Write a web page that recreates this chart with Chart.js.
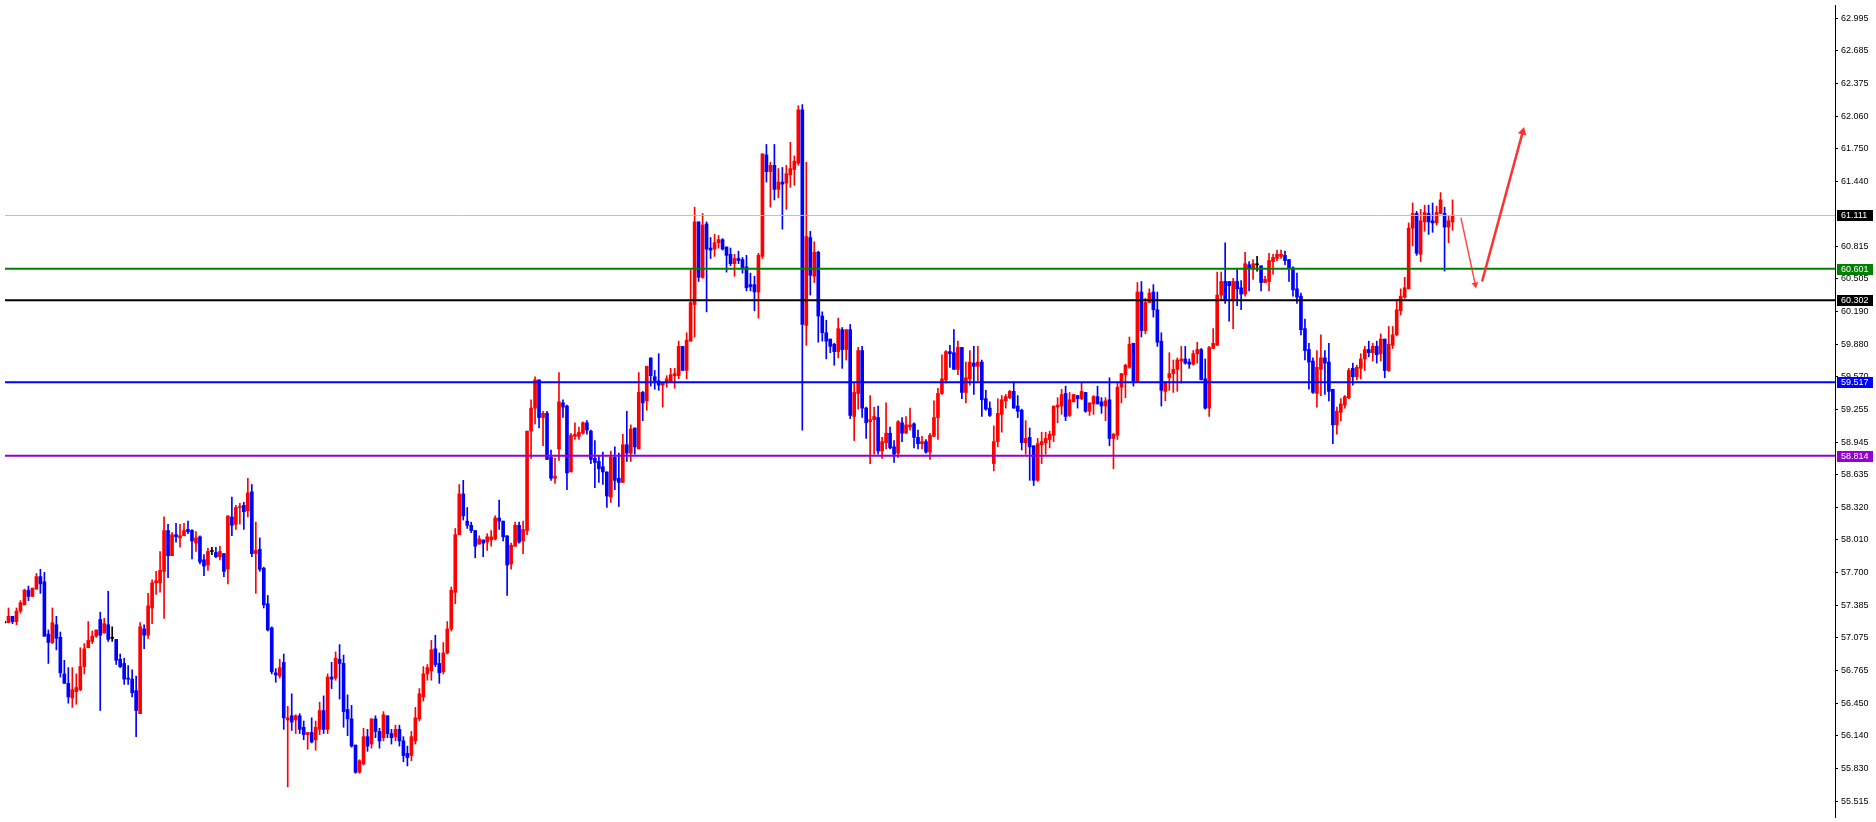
<!DOCTYPE html>
<html>
<head>
<meta charset="utf-8">
<style>
  html, body { margin: 0; padding: 0; background: #ffffff; }
  #wrap { width: 1876px; height: 822px; position: relative; }
  canvas { display: block; }
</style>
<script src="https://cdn.jsdelivr.net/npm/chart.js@4.4.1/dist/chart.umd.min.js"></script>
</head>
<body>
<div id="wrap"><canvas id="c" width="1876" height="822"></canvas></div>
<script>
// ---------------- DATA ----------------
const openPrices = [
57.22,57.22,57.28,57.23,57.33,57.39,57.53,57.47,57.54,57.66,
57.61,57.11,57.03,57.20,57.08,56.73,56.64,56.50,56.56,56.58,
56.80,56.98,57.04,57.09,57.25,57.12,57.20,57.07,57.06,56.87,
56.83,56.69,56.68,56.57,56.35,57.16,57.10,57.36,57.60,57.60,
57.71,58.10,57.86,58.06,58.03,58.05,58.11,58.10,57.98,58.04,
57.82,57.77,57.90,57.89,57.85,57.88,57.73,58.23,58.16,58.32,
58.34,58.29,58.47,57.88,57.92,57.74,57.40,57.17,56.74,56.71,
56.84,56.29,56.33,56.29,56.33,56.22,56.15,56.17,56.10,56.20,
56.38,56.20,56.70,56.69,56.87,56.83,56.39,56.30,56.05,55.79,
55.87,56.13,56.06,56.30,56.18,56.12,56.33,56.16,56.13,56.20,
56.09,55.97,55.95,56.09,56.30,56.51,56.73,56.76,56.97,56.83,
56.75,56.93,57.16,57.51,58.06,58.45,58.19,58.15,58.10,57.97,
58.01,57.99,58.01,58.02,58.22,58.19,58.05,57.78,57.95,58.15,
58.00,58.10,59.05,59.27,59.54,59.18,59.22,58.80,58.60,58.88,
59.32,59.29,58.66,59.00,59.00,59.03,59.13,59.05,58.79,58.76,
58.71,58.66,58.42,58.80,58.60,58.56,58.92,58.84,59.08,58.88,
59.42,59.34,59.75,59.57,59.53,59.49,59.51,59.53,59.58,59.58,
59.86,59.63,59.91,60.26,61.05,60.52,61.03,60.80,60.79,60.85,
60.88,60.81,60.74,60.65,60.70,60.69,60.62,60.45,60.45,60.38,
60.72,61.69,61.53,61.59,61.36,61.43,61.42,61.50,61.55,61.61,
62.12,60.06,60.90,60.53,60.76,60.15,59.99,59.93,59.88,59.81,
60.02,59.83,60.02,59.19,59.41,59.82,59.27,59.14,59.16,59.18,
58.86,58.94,59.03,58.90,58.84,59.13,59.03,59.09,59.12,58.99,
58.93,58.95,58.85,59.00,59.18,59.41,59.54,59.81,59.80,59.64,
59.85,59.42,59.55,59.70,59.67,59.71,59.36,59.27,58.74,58.95,
59.21,59.34,59.37,59.43,59.29,59.25,58.94,58.99,58.91,58.58,
58.92,58.94,58.97,59.01,59.28,59.29,59.41,59.20,59.33,59.39,
59.36,59.42,59.24,59.31,59.38,59.33,59.29,59.35,58.98,59.01,
59.47,59.59,59.66,59.89,59.52,60.38,60.01,60.28,60.38,60.21,
59.91,59.43,59.56,59.60,59.64,59.72,59.74,59.71,59.69,59.79,
59.83,59.55,59.27,59.84,59.87,60.35,60.48,60.48,60.30,60.48,
60.42,60.36,60.64,60.61,60.64,60.63,60.47,60.48,60.67,60.70,
60.72,60.73,60.69,60.61,60.41,60.34,60.03,59.83,59.72,59.41,
59.64,59.75,59.71,59.45,59.11,59.23,59.30,59.37,59.65,59.57,
59.65,59.74,59.83,59.80,59.86,59.79,59.93,59.63,59.87,59.97,
60.20,60.33,60.41,60.99,61.13,60.74,61.05,61.13,61.06,61.04,
61.13,61.13,61.00,61.05
];
const highPrices = [
57.23,57.36,57.28,57.36,57.43,57.54,57.57,57.55,57.69,57.73,
57.70,57.15,57.36,57.28,57.13,56.86,56.79,56.79,56.73,56.98,
57.02,57.23,57.14,57.15,57.32,57.26,57.52,57.18,57.06,56.92,
56.88,56.81,56.77,56.71,57.22,57.20,57.50,57.63,57.71,57.90,
58.23,58.16,58.08,58.17,58.16,58.17,58.19,58.11,58.09,58.05,
57.87,57.93,57.94,57.94,57.95,57.88,58.24,58.42,58.34,58.36,
58.37,58.60,58.54,58.18,58.03,57.75,57.48,57.18,56.78,56.87,
56.92,56.42,56.54,56.34,56.35,56.28,56.17,56.31,56.28,56.46,
56.52,56.73,56.84,56.94,57.01,56.91,56.53,56.43,56.05,55.91,
56.21,56.20,56.30,56.33,56.21,56.37,56.33,56.20,56.24,56.24,
56.13,56.04,56.18,56.41,56.59,56.80,56.82,57.05,57.10,56.93,
57.03,57.23,57.56,58.12,58.54,58.58,58.32,58.18,58.10,58.05,
58.01,58.07,58.10,58.24,58.39,58.19,58.05,57.98,58.18,58.18,
58.19,59.05,59.35,59.57,59.54,59.24,59.24,58.87,58.79,59.61,
59.35,59.30,59.03,59.13,59.09,59.14,59.15,59.06,58.96,58.81,
58.85,58.66,58.86,58.90,58.84,59.02,59.24,59.11,59.08,59.61,
59.43,59.67,59.75,59.63,59.79,59.51,59.58,59.65,59.65,59.91,
59.86,59.99,60.59,61.19,61.05,61.13,61.05,60.90,60.93,60.92,
60.89,60.81,60.80,60.74,60.77,60.71,60.73,60.56,60.53,60.75,
61.70,61.79,61.62,61.79,61.56,61.57,61.59,61.81,61.68,62.16,
62.17,61.62,60.96,60.86,60.77,60.19,60.11,59.93,59.89,60.13,
60.04,60.02,60.07,59.51,59.85,59.86,59.28,59.39,59.28,59.29,
58.99,59.32,59.09,58.96,59.15,59.18,59.19,59.27,59.13,59.06,
59.00,58.97,59.03,59.34,59.46,59.78,59.82,59.87,60.02,59.91,
59.85,59.71,59.82,59.86,59.86,59.73,59.44,59.33,59.10,59.36,
59.39,59.40,59.44,59.52,59.39,59.26,59.15,59.08,58.91,58.98,
59.04,59.04,59.05,59.29,59.37,59.45,59.48,59.42,59.40,59.39,
59.51,59.42,59.32,59.39,59.48,59.37,59.37,59.56,59.03,59.52,
59.60,59.69,59.95,59.89,60.47,60.48,60.32,60.41,60.45,60.38,
59.99,59.52,59.80,59.73,59.75,59.86,59.86,59.74,59.82,59.90,
59.84,59.74,59.86,60.03,60.57,60.57,60.85,60.48,60.51,60.60,
60.49,60.76,60.67,60.69,60.72,60.63,60.53,60.75,60.74,60.78,
60.78,60.77,60.69,60.62,60.56,60.37,60.12,59.89,59.75,59.82,
59.97,59.82,59.89,59.45,59.28,59.36,59.39,59.65,59.70,59.68,
59.79,59.86,59.91,59.89,59.91,59.98,59.93,60.05,60.05,60.31,
60.41,60.52,61.04,61.23,61.15,61.17,61.21,61.21,61.23,61.20,
61.33,61.19,61.11,61.26
];
const lowPrices = [
57.21,57.22,57.21,57.20,57.31,57.39,57.43,57.47,57.54,57.50,
57.09,56.83,57.02,56.96,56.70,56.64,56.45,56.41,56.44,56.57,
56.73,56.98,57.02,57.08,56.38,57.12,57.04,57.04,56.82,56.79,
56.63,56.63,56.51,56.13,56.35,56.97,57.07,57.21,57.49,57.51,
57.26,57.65,57.86,57.99,57.94,58.05,58.07,57.83,57.90,57.78,
57.67,57.72,57.87,57.84,57.82,57.66,57.59,58.05,58.11,58.16,
58.11,58.23,57.85,57.50,57.71,57.36,57.14,56.73,56.65,56.69,
56.20,55.65,56.19,56.16,56.16,56.10,56.01,56.07,56.00,56.15,
56.16,56.16,56.59,56.67,56.49,56.22,56.14,56.03,55.78,55.78,
55.86,55.99,56.02,56.12,56.02,56.09,56.12,56.06,56.09,56.04,
55.89,55.85,55.90,56.06,56.28,56.47,56.67,56.67,56.80,56.64,
56.73,56.92,57.14,57.40,58.06,58.20,58.12,58.08,57.84,57.97,
57.85,57.91,57.95,58.01,58.11,58.00,57.48,57.73,57.95,57.98,
57.88,58.06,58.79,59.12,59.08,58.91,58.78,58.58,58.55,58.77,
59.18,58.49,58.66,58.97,58.97,59.02,59.02,58.74,58.51,58.56,
58.54,58.32,58.37,58.49,58.33,58.56,58.76,58.76,58.83,58.88,
59.15,59.25,59.48,59.45,59.44,59.28,59.47,59.52,59.46,59.55,
59.63,59.55,59.91,59.95,60.48,60.51,60.19,60.70,60.72,60.80,
60.78,60.57,60.63,60.53,60.65,60.56,60.39,60.39,60.20,60.13,
60.70,61.43,61.19,61.26,61.28,60.98,61.17,61.38,61.40,61.59,
59.06,59.87,60.35,60.47,59.90,59.91,59.74,59.80,59.68,59.75,
59.65,59.73,59.17,58.96,59.26,59.18,58.98,58.74,58.83,58.83,
58.79,58.88,58.88,58.75,58.80,58.95,59.03,59.06,58.89,58.88,
58.88,58.84,58.78,59.00,58.97,59.40,59.51,59.66,59.64,59.59,
59.36,59.32,59.49,59.40,59.53,59.19,59.25,59.19,58.67,58.90,
59.04,59.27,59.36,59.27,59.18,58.87,58.83,58.58,58.53,58.57,
58.74,58.83,58.89,58.95,59.13,59.21,59.15,59.19,59.33,59.27,
59.35,59.23,59.20,59.21,59.31,59.22,59.15,58.91,58.69,58.97,
59.32,59.37,59.65,59.48,59.52,59.95,59.98,60.28,60.14,59.86,
59.29,59.34,59.44,59.42,59.43,59.51,59.69,59.65,59.68,59.70,
59.54,59.26,59.19,59.84,59.87,60.30,60.27,60.10,60.03,60.25,
60.21,60.34,60.39,60.50,60.58,60.39,60.47,60.39,60.55,60.68,
60.70,60.64,60.48,60.34,60.27,59.97,59.73,59.45,59.41,59.28,
59.39,59.40,59.34,58.93,59.02,59.15,59.27,59.36,59.49,59.54,
59.55,59.63,59.76,59.72,59.70,59.72,59.56,59.62,59.84,59.96,
60.16,60.32,60.41,60.82,60.73,60.67,60.96,60.93,60.95,61.02,
61.13,60.58,60.85,60.97
];
const closePrices = [
57.22,57.28,57.23,57.33,57.41,57.53,57.47,57.55,57.66,57.59,
57.09,57.03,57.22,57.07,56.74,56.64,56.51,56.58,56.60,56.80,
56.97,57.05,57.09,57.15,57.10,57.21,57.06,57.07,56.86,56.80,
56.68,56.68,56.55,56.38,57.18,57.10,57.38,57.60,57.62,57.72,
58.10,57.86,58.06,58.04,58.05,58.10,58.09,58.00,58.03,57.80,
57.76,57.90,57.90,57.85,57.90,57.71,58.24,58.15,58.32,58.33,
58.28,58.46,57.88,57.91,57.73,57.39,57.15,56.75,56.72,56.79,
56.31,56.31,56.27,56.33,56.20,56.15,56.17,56.08,56.22,56.38,
56.20,56.70,56.68,56.88,56.83,56.37,56.30,56.04,55.79,55.90,
56.13,56.04,56.30,56.18,56.09,56.34,56.16,56.12,56.20,56.09,
55.95,55.93,56.13,56.31,56.54,56.73,56.79,56.96,56.82,56.74,
56.93,57.16,57.53,58.06,58.45,58.24,58.15,58.10,57.95,58.02,
57.98,58.04,58.04,58.22,58.19,58.04,57.77,57.96,58.15,57.99,
58.11,59.05,59.27,59.54,59.18,59.22,58.78,58.60,58.62,59.33,
59.28,58.65,59.01,59.02,59.04,59.13,59.06,58.78,58.75,58.69,
58.66,58.43,58.80,58.58,58.56,58.92,58.84,59.07,58.90,59.42,
59.32,59.67,59.58,59.53,59.49,59.51,59.55,59.59,59.60,59.86,
59.63,59.92,60.28,61.05,60.52,61.02,60.79,60.78,60.85,60.88,
60.79,60.73,60.65,60.70,60.68,60.61,60.42,60.43,60.38,60.73,
61.70,61.53,61.59,61.36,61.43,61.41,61.51,61.56,61.63,62.12,
60.07,60.91,60.54,60.76,60.15,59.99,59.91,59.86,59.81,60.03,
59.83,60.02,59.20,59.42,59.82,59.27,59.13,59.16,59.19,58.86,
58.95,59.03,58.89,58.83,59.14,59.03,59.11,59.11,58.99,58.93,
58.95,58.85,59.01,59.18,59.41,59.55,59.81,59.79,59.64,59.85,
59.42,59.56,59.71,59.67,59.71,59.35,59.26,59.20,58.95,59.22,
59.35,59.38,59.43,59.27,59.24,58.94,58.98,58.90,58.58,58.93,
58.95,58.98,59.02,59.29,59.30,59.40,59.19,59.35,59.40,59.36,
59.43,59.24,59.32,59.38,59.31,59.29,59.34,58.98,59.02,59.47,
59.60,59.68,59.88,59.53,60.38,60.01,60.28,60.37,60.21,59.90,
59.44,59.52,59.60,59.64,59.73,59.74,59.70,59.69,59.79,59.83,
59.54,59.27,59.85,59.89,60.35,60.48,60.30,60.44,60.48,60.41,
60.36,60.65,60.61,60.65,60.64,60.47,60.50,60.68,60.71,60.74,
60.74,60.68,60.61,60.40,60.33,60.02,59.82,59.71,59.42,59.66,
59.75,59.70,59.43,59.11,59.24,59.31,59.38,59.63,59.57,59.66,
59.74,59.83,59.80,59.86,59.78,59.93,59.63,59.88,59.97,60.21,
60.34,60.42,60.99,61.13,60.75,61.06,61.14,61.05,61.04,61.14,
61.26,61.00,61.06,61.11
];

// Axis tick labels printed on the right-hand price scale
const tickLabels = [62.995,62.685,62.375,62.060,61.750,61.440,60.815,60.505,60.190,59.880,
  59.570,59.255,58.945,58.635,58.320,58.010,57.700,57.385,57.075,56.765,56.450,56.140,55.830,55.515];

// Horizontal price levels and their boxed labels
const levelValues = [61.111, 60.601, 60.302, 59.517, 58.814];
const levelLabels = ['61.111', '60.601', '60.302', '59.517', '58.814'];

// Hand-drawn forecast arrow (candle index, price)
const arrowDownX = [365.1, 368.7];
const arrowDownY = [61.09, 60.45];
const arrowUpX = [370.4, 380.6];
const arrowUpY = [60.48, 61.91];

// ---------------- STYLE ----------------
const UP = '#ff0000', DOWN = '#0000ff', DOJI = '#000000';
const levelColors = ['#c0c0c0', '#008000', '#000000', '#0000ff', '#9400d3'];
const levelWidths = [1, 2, 2, 2, 2];
const levelBoxColors = ['#000000', '#008000', '#000000', '#0000ff', '#9400d3'];
const X_MIN = 0.125, X_MAX = 458.875;
const Y_MIN = 55.3625, Y_MAX = 63.1225;
const FONT = { family: 'Liberation Sans, Arial, sans-serif', size: 9 };

const n = openPrices.length;
const candleColors = [];
const bodyData = [];
const wickData = [];
for (let i = 0; i < n; i++) {
  const o = openPrices[i], c = closePrices[i];
  candleColors.push(c > o ? UP : (c < o ? DOWN : DOJI));
  bodyData.push({ x: i, y: [o, c] });
  wickData.push({ x: i, y: [lowPrices[i], highPrices[i]] });
}

const levelDatasets = levelValues.map((v, k) => ({
  type: 'line',
  data: [{ x: X_MIN, y: v }, { x: X_MAX, y: v }],
  borderColor: levelColors[k],
  borderWidth: levelWidths[k],
  pointRadius: 0,
  order: 1,
  clip: false
}));

const arrowDown = {
  type: 'line',
  data: arrowDownX.map((x, i) => ({ x, y: arrowDownY[i] })),
  borderColor: 'rgba(255,40,40,0.85)',
  borderWidth: 1.5,
  pointRadius: [0, 4],
  pointStyle: 'triangle',
  pointRotation: [0, 169],
  pointBackgroundColor: 'rgba(255,40,40,0.9)',
  pointBorderWidth: 0,
  order: 0
};
const arrowUp = {
  type: 'line',
  data: arrowUpX.map((x, i) => ({ x, y: arrowUpY[i] })),
  borderColor: '#ff3030',
  borderWidth: 2.5,
  pointRadius: [0, 5],
  pointStyle: 'triangle',
  pointRotation: [0, 15],
  pointBackgroundColor: '#ff3030',
  pointBorderWidth: 0,
  order: 0
};

const levelBoxes = {
  id: 'levelBoxes',
  afterDraw(chart) {
    const ctx = chart.ctx;
    const ys = chart.scales.y;
    ctx.save();
    ctx.font = FONT.size + 'px ' + FONT.family;
    ctx.textBaseline = 'middle';
    ctx.textAlign = 'left';
    levelValues.forEach((v, k) => {
      const y = Math.round(ys.getPixelForValue(v));
      ctx.fillStyle = levelBoxColors[k];
      ctx.fillRect(ys.left + 2, y - 5, 36, 11);
      ctx.fillStyle = '#ffffff';
      ctx.fillText(levelLabels[k], ys.left + 6, y + 0.5);
    });
    ctx.restore();
  }
};

new Chart(document.getElementById('c'), {
  type: 'bar',
  data: {
    datasets: [
      ...levelDatasets,
      arrowDown,
      arrowUp,
      {
        type: 'bar',
        data: bodyData,
        backgroundColor: candleColors,
        borderWidth: 0,
        barThickness: 3,
        minBarLength: 1,
        grouped: false,
        order: 2
      },
      {
        type: 'bar',
        data: wickData,
        backgroundColor: candleColors,
        borderWidth: 0,
        barThickness: 1,
        minBarLength: 1,
        grouped: false,
        order: 3
      }
    ]
  },
  options: {
    responsive: false,
    devicePixelRatio: 1,
    animation: false,
    events: [],
    layout: { padding: 0 },
    plugins: { legend: { display: false }, tooltip: { enabled: false } },
    scales: {
      x: {
        type: 'linear',
        display: false,
        min: X_MIN,
        max: X_MAX,
        offset: false
      },
      y: {
        position: 'right',
        min: Y_MIN,
        max: Y_MAX,
        afterBuildTicks: (s) => { s.ticks = tickLabels.map(v => ({ value: v })); },
        afterFit: (s) => { s.width = 41; s.paddingTop = 0; s.paddingBottom = 0; },
        ticks: {
          autoSkip: false,
          padding: 3,
          color: '#000000',
          font: FONT,
          callback: (v) => Number(v).toFixed(3)
        },
        grid: { drawOnChartArea: false, drawTicks: true, tickLength: 3, color: '#000000' },
        border: { display: true, color: '#000000', width: 1 }
      }
    }
  },
  plugins: [levelBoxes]
});
</script>
</body>
</html>
